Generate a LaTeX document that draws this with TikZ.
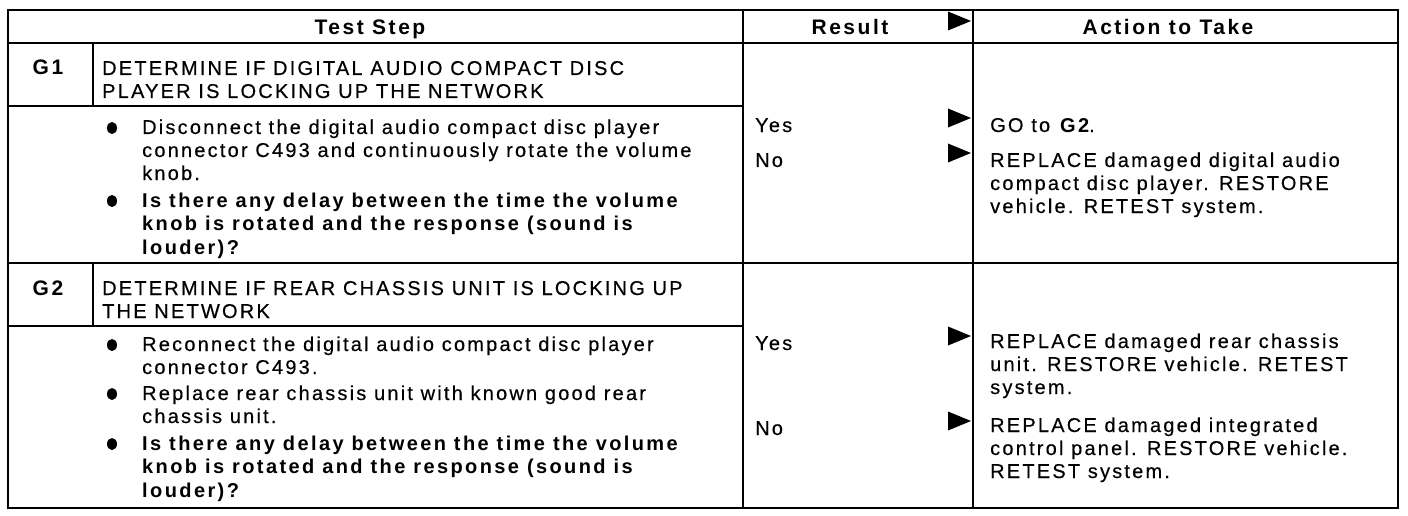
\documentclass[tikz,border=0pt]{standalone}
\usepackage{fontspec}
\usetikzlibrary{shapes.geometric}
\setmainfont{Liberation Sans}[LetterSpace=11, FakeBold=0.4,
  BoldFont=Liberation Sans Bold, BoldFeatures={LetterSpace=12, FakeBold=0}]
\begin{document}
\begin{tikzpicture}[x=1pt,y=-1pt,
  txt/.style={anchor=base west,inner sep=0pt,font=\fontsize{20}{23}\selectfont},
  btxt/.style={anchor=base west,inner sep=0pt,font=\fontsize{20}{23}\selectfont\bfseries},
  hdr/.style={anchor=base,inner sep=0pt,font=\fontsize{21}{23}\selectfont\bfseries},
  bul/.style={ellipse,fill=black,inner sep=0pt,minimum width=10pt,minimum height=12pt},
  rule/.style={line width=1.8pt}]
\newcommand\tline[4]{\node[txt] (#1) at (#2,#3) {#4};}
\newcommand\bline[4]{\node[btxt] (#1) at (#2,#3) {#4};}
\newcommand\tri[2]{\fill (948,#2-9.5) -- (971,#2) -- (948,#2+9.5) -- cycle;}
\useasboundingbox (0,0) rectangle (1408,516);
% table rules
\draw[rule] (8,10) rectangle (1398,508);
\draw[rule] (8,43) -- (1398,43);
\draw[rule] (743,10) -- (743,508);
\draw[rule] (973,10) -- (973,508);
\draw[rule] (93,43) -- (93,106);
\draw[rule] (8,106) -- (743,106);
\draw[rule] (8,263) -- (1398,263);
\draw[rule] (93,263) -- (93,326);
\draw[rule] (8,326) -- (743,326);
% header
\node[hdr] (hts) at (370,35) {Test Step};
\node[hdr] (hres) at (850,35) {Result};
\node[hdr] (hact) at (1168,35) {Action to Take};
\tri{h}{21}
% G1
\node[hdr] (g1) at (48,75) {G1};
\tline{g1a}{102}{75}{DETERMINE IF DIGITAL AUDIO COMPACT DISC}
\tline{g1b}{102}{98}{PLAYER IS LOCKING UP THE NETWORK}
\node[bul] (g1p1) at (112,128) {};
\tline{g1c}{142}{134}{Disconnect the digital audio compact disc player}
\tline{g1d}{142}{157}{connector C493 and continuously rotate the volume}
\tline{g1e}{142}{180}{knob.}
\node[bul] (g1p2) at (112,201) {};
\bline{g1f}{142}{207}{Is there any delay between the time the volume}
\bline{g1g}{142}{230}{knob is rotated and the response (sound is}
\bline{g1h}{142}{254}{louder)?}
\tline{g1yes}{755}{132}{Yes}
\tri{a}{118}
\tline{g1ya}{990}{132}{GO to \textbf{G2}.}
\tline{g1no}{755}{167}{No}
\tri{b}{153}
\tline{g1na}{990}{167}{REPLACE damaged digital audio}
\tline{g1nb}{990}{190}{compact disc player. RESTORE}
\tline{g1nc}{990}{213}{vehicle. RETEST system.}
% G2
\node[hdr] (g2) at (48,295) {G2};
\tline{g2a}{102}{295}{DETERMINE IF REAR CHASSIS UNIT IS LOCKING UP}
\tline{g2b}{102}{318}{THE NETWORK}
\node[bul] (g2p1) at (112,345) {};
\tline{g2c}{142}{351}{Reconnect the digital audio compact disc player}
\tline{g2d}{142}{374}{connector C493.}
\node[bul] (g2p2) at (112,394) {};
\tline{g2e}{142}{400}{Replace rear chassis unit with known good rear}
\tline{g2f}{142}{423}{chassis unit.}
\node[bul] (g2p3) at (112,444) {};
\bline{g2g}{142}{450}{Is there any delay between the time the volume}
\bline{g2h}{142}{473}{knob is rotated and the response (sound is}
\bline{g2i}{142}{497}{louder)?}
\tline{g2yes}{755}{350}{Yes}
\tri{c}{336}
\tline{g2ya}{990}{348}{REPLACE damaged rear chassis}
\tline{g2yb}{990}{371}{unit. RESTORE vehicle. RETEST}
\tline{g2yc}{990}{394}{system.}
\tline{g2no}{755}{435}{No}
\tri{d}{421}
\tline{g2na}{990}{432}{REPLACE damaged integrated}
\tline{g2nb}{990}{455}{control panel. RESTORE vehicle.}
\tline{g2nc}{990}{478}{RETEST system.}
\end{tikzpicture}
\end{document}
